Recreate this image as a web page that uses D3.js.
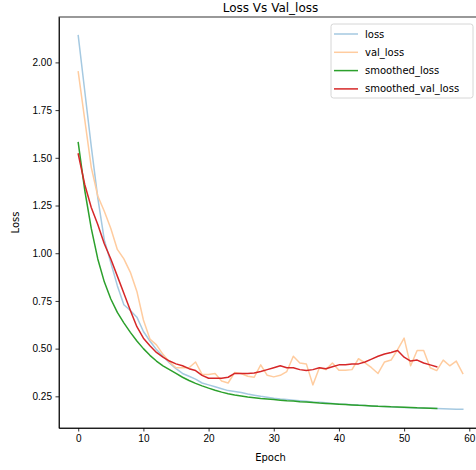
<!DOCTYPE html>
<html>
<head>
<meta charset="utf-8">
<script src="https://cdn.jsdelivr.net/npm/d3@7"></script>
<style>
  html, body { margin: 0; background: #fff; overflow: hidden; }
  svg { font-family: "DejaVu Sans", sans-serif; display: block; }
  .axis text { font-size: 10px; fill: #000; }
  .axis path, .axis line { stroke: #000; stroke-width: 0.8; }
</style>
</head>
<body>
<div id="chart"></div>
<script>
const loss = [2.14, 1.85, 1.56, 1.29, 1.07, 0.95, 0.83, 0.73, 0.70, 0.665,
  0.59, 0.54, 0.495, 0.46, 0.425, 0.395, 0.37, 0.355, 0.34, 0.32,
  0.31, 0.30, 0.29, 0.28, 0.275, 0.27, 0.262, 0.256, 0.25, 0.245,
  0.24, 0.236, 0.233, 0.23, 0.227, 0.224, 0.221, 0.219, 0.216, 0.213,
  0.21, 0.208, 0.206, 0.204, 0.202, 0.2, 0.198, 0.197, 0.195, 0.193,
  0.192, 0.19, 0.189, 0.188, 0.187, 0.186, 0.185, 0.184, 0.183, 0.182];

const valLoss = [1.95, 1.70, 1.45, 1.30, 1.22, 1.13, 1.02, 0.97, 0.90, 0.80,
  0.65, 0.55, 0.52, 0.47, 0.43, 0.40, 0.40, 0.40, 0.43, 0.365,
  0.365, 0.37, 0.33, 0.32, 0.375, 0.37, 0.355, 0.35, 0.415, 0.36,
  0.352, 0.36, 0.38, 0.46, 0.425, 0.42, 0.31, 0.40, 0.39, 0.425,
  0.387, 0.387, 0.39, 0.447, 0.425, 0.40, 0.37, 0.43, 0.44, 0.495,
  0.555, 0.41, 0.49, 0.49, 0.40, 0.385, 0.44, 0.41, 0.435, 0.37];

const smoothedLoss = [1.58, 1.33, 1.13, 0.97, 0.85, 0.76, 0.69, 0.635, 0.585, 0.54,
  0.50, 0.465, 0.435, 0.41, 0.39, 0.37, 0.35, 0.333, 0.318, 0.305,
  0.293, 0.282, 0.272, 0.264, 0.257, 0.252, 0.247, 0.243, 0.239, 0.236,
  0.233, 0.23, 0.227, 0.225, 0.222, 0.22, 0.218, 0.215, 0.213, 0.211,
  0.209, 0.207, 0.205, 0.203, 0.202, 0.2, 0.198, 0.197, 0.195, 0.194,
  0.193, 0.192, 0.19, 0.189, 0.188, 0.187];

const smoothedValLoss = [1.52, 1.36, 1.24, 1.15, 1.05, 0.97, 0.88, 0.79, 0.70, 0.615,
  0.555, 0.515, 0.48, 0.455, 0.435, 0.42, 0.41, 0.395, 0.385, 0.36,
  0.345, 0.345, 0.345, 0.35, 0.37, 0.37, 0.37, 0.372, 0.38, 0.39,
  0.40, 0.41, 0.40, 0.40, 0.39, 0.385, 0.39, 0.40, 0.395, 0.405,
  0.415, 0.415, 0.42, 0.42, 0.43, 0.445, 0.46, 0.472, 0.48, 0.49,
  0.455, 0.435, 0.44, 0.425, 0.415, 0.405];

const series = [
  { name: 'loss', values: loss, color: '#a5c9e1' },
  { name: 'val_loss', values: valLoss, color: '#ffcc9f' },
  { name: 'smoothed_loss', values: smoothedLoss, color: '#2ca02c' },
  { name: 'smoothed_val_loss', values: smoothedValLoss, color: '#d62728' },
];

const xTicks = [0, 10, 20, 30, 40, 50, 60];
const yTicks = [0.25, 0.5, 0.75, 1.0, 1.25, 1.5, 1.75, 2.0];

const width = 476, height = 470;
const margin = { top: 17, left: 59 };
const innerWidth = 423, innerHeight = 411;

// matplotlib style 5% padding around the data
const allVals = series.flatMap((s) => s.values);
const maxLen = d3.max(series, (s) => s.values.length) - 1;
const yMin = d3.min(allVals), yMax = d3.max(allVals);
const yPad = (yMax - yMin) * 0.05, xPad = maxLen * 0.05;

const x = d3.scaleLinear().domain([-xPad, maxLen + xPad]).range([0, innerWidth]);
const y = d3.scaleLinear().domain([yMin - yPad, yMax + yPad]).range([innerHeight, 0]);

const svg = d3.select('#chart').append('svg').attr('width', width).attr('height', height);
const g = svg.append('g').attr('transform', `translate(${margin.left},${margin.top})`);

g.append('rect')
  .attr('width', innerWidth)
  .attr('height', innerHeight)
  .attr('fill', 'none')
  .attr('stroke', '#000')
  .attr('stroke-width', 0.8);

g.append('g')
  .attr('class', 'axis')
  .attr('transform', `translate(0,${innerHeight})`)
  .call(d3.axisBottom(x).tickValues(xTicks).tickSize(3.5).tickPadding(3.5).tickSizeOuter(0).tickFormat(d3.format('d')));

g.append('g')
  .attr('class', 'axis')
  .call(d3.axisLeft(y).tickValues(yTicks).tickSize(3.5).tickPadding(3.5).tickSizeOuter(0).tickFormat(d3.format('.2f')));

const line = d3.line().x((d, i) => x(i)).y((d) => y(d));

g.selectAll('.series')
  .data(series)
  .join('path')
  .attr('class', 'series')
  .attr('d', (d) => line(d.values))
  .attr('fill', 'none')
  .attr('stroke', (d) => d.color)
  .attr('stroke-width', 1.5)
  .attr('stroke-linejoin', 'round')
  .attr('stroke-linecap', 'square');

g.append('text')
  .attr('x', innerWidth / 2)
  .attr('y', -5)
  .attr('text-anchor', 'middle')
  .attr('font-size', 12)
  .text('Loss Vs Val_loss');

g.append('text')
  .attr('x', innerWidth / 2)
  .attr('y', innerHeight + 33)
  .attr('text-anchor', 'middle')
  .attr('font-size', 10)
  .text('Epoch');

g.append('text')
  .attr('transform', `translate(-40,${innerHeight / 2}) rotate(-90)`)
  .attr('text-anchor', 'middle')
  .attr('font-size', 10)
  .text('Loss');

// legend, upper right
const legend = svg.append('g').attr('transform', 'translate(331,24)');
legend.append('rect')
  .attr('width', 142)
  .attr('height', 74)
  .attr('rx', 2.5)
  .attr('fill', 'rgba(255,255,255,0.8)')
  .attr('stroke', '#cccccc')
  .attr('stroke-width', 0.8);

const item = legend.selectAll('.item')
  .data(series)
  .join('g')
  .attr('class', 'item')
  .attr('transform', (d, i) => `translate(0,${10 + i * 18.3})`);

item.append('line')
  .attr('x1', 3)
  .attr('x2', 27)
  .attr('stroke', (d) => d.color)
  .attr('stroke-width', 1.5);

item.append('text')
  .attr('x', 34)
  .attr('y', 3.5)
  .attr('font-size', 10)
  .text((d) => d.name);
</script>
</body>
</html>
